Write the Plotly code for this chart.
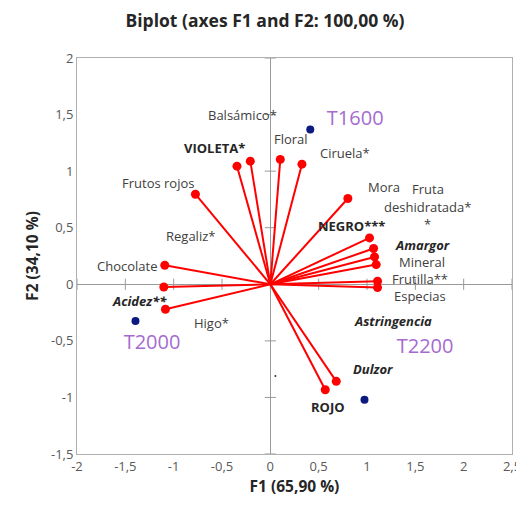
import plotly.graph_objects as go

# ---- Data ----
# Variable vectors (end points, F1/F2 loadings)
var_x = [-0.775, -0.345, -0.207, 0.103, 0.327, 0.802, 1.026, 1.068, 1.078, 1.095, 1.109, 1.109,
         -1.092, -1.102, -1.085, 0.568, 0.682]
var_y = [0.796, 1.044, 1.088, 1.104, 1.062, 0.758, 0.410, 0.316, 0.242, 0.174, 0.027, -0.029,
         0.168, -0.024, -0.221, -0.932, -0.858]

# Observations
obs_names = ["T1600", "T2000", "T2200"]
obs_x = [0.413, -1.395, 0.974]
obs_y = [1.369, -0.325, -1.020]
obs_label_x = [0.878, -1.224, 1.601]
obs_label_y = [1.456, -0.525, -0.560]

# Variable labels (text, position, style)
lab_text = ["Balsámico*", "VIOLETA*", "Floral", "Frutos rojos", "Ciruela*", "Mora", "Fruta",
            "deshidratada*", "*", "NEGRO***", "Amargor", "Mineral", "Frutilla**", "Especias",
            "Regaliz*", "Chocolate", "Acidez**", "Higo*", "Astringencia", "Dulzor", "ROJO"]
lab_x = [-0.289, -0.573, 0.212, -1.162, 0.775, 1.172, 1.632, 1.622, 1.625, 0.837, 1.570, 1.570,
         1.544, 1.550, -0.821, -1.482, -1.358, -0.609, 1.265, 1.064, 0.594]
lab_y = [1.496, 1.204, 1.283, 0.894, 1.159, 0.858, 0.841, 0.686, 0.530, 0.513, 0.348, 0.196,
         0.046, -0.104, 0.425, 0.159, -0.150, -0.342, -0.327, -0.746, -1.086]
lab_style = ["n", "b", "n", "n", "n", "n", "n", "n", "n", "b", "bi", "n", "n", "n",
             "n", "n", "bi", "n", "bi", "bi", "b"]

stray_x = [0.052]
stray_y = [-0.81]

x_ticks = [-2, -1.5, -1, -0.5, 0, 0.5, 1, 1.5, 2, 2.5]
x_tick_text = ["-2", "-1,5", "-1", "-0,5", "0", "0,5", "1", "1,5", "2", "2,5"]
y_ticks = [-1.5, -1, -0.5, 0, 0.5, 1, 1.5, 2]
y_tick_text = ["-1,5", "-1", "-0,5", "0", "0,5", "1", "1,5", "2"]

FONT = "Open Sans"
fig = go.Figure()

# zero-axis tick marks
fig.add_trace(go.Scatter(x=x_ticks, y=[0] * len(x_ticks), mode="markers",
                         marker=dict(symbol="line-ns", size=8, line=dict(color="#9a9a9a", width=1)),
                         hoverinfo="skip", showlegend=False))
fig.add_trace(go.Scatter(x=[0] * len(y_ticks), y=y_ticks, mode="markers",
                         marker=dict(symbol="line-ew", size=8, line=dict(color="#9a9a9a", width=1)),
                         hoverinfo="skip", showlegend=False))

# vectors
for vx, vy in zip(var_x, var_y):
    fig.add_trace(go.Scatter(x=[0, vx], y=[0, vy], mode="lines",
                             line=dict(color="#FF0000", width=2),
                             hoverinfo="skip", showlegend=False))
fig.add_trace(go.Scatter(x=var_x, y=var_y, mode="markers",
                         marker=dict(color="#FF0000", size=9),
                         showlegend=False))

# observations
fig.add_trace(go.Scatter(x=obs_x, y=obs_y, mode="markers",
                         marker=dict(color="#0A1A80", size=8), showlegend=False))
fig.add_trace(go.Scatter(x=obs_label_x, y=obs_label_y, mode="text", text=obs_names,
                         textfont=dict(family=FONT, size=20, color="#A66BD0"),
                         showlegend=False))
fig.add_trace(go.Scatter(x=stray_x, y=stray_y, mode="markers",
                         marker=dict(color="#333333", size=2), showlegend=False))

for t, x, y, s in zip(lab_text, lab_x, lab_y, lab_style):
    txt = t
    color = "#404040"
    if "b" in s:
        txt = "<b>" + txt + "</b>"
        color = "#262626"
    if "i" in s:
        txt = "<i>" + txt + "</i>"
    fig.add_annotation(x=x, y=y, text=txt, showarrow=False,
                       font=dict(family=FONT, size=13, color=color),
                       xanchor="center", yanchor="middle")

fig.update_layout(
    width=516, height=498,
    margin=dict(l=69, r=12, t=50, b=52, autoexpand=False),
    paper_bgcolor="white", plot_bgcolor="white",
    title=dict(text="<b>Biplot (axes F1 and F2: 100,00 %)</b>", x=0.498, xanchor="center",
               y=0.975, yanchor="middle", automargin=False,
               font=dict(family=FONT, size=17.5, color="#262626")),
    font=dict(family=FONT),
)
fig.update_xaxes(range=[-2, 2.5], tickvals=x_ticks, ticktext=x_tick_text, automargin=False,
                 showgrid=False, zeroline=True, zerolinecolor="#9a9a9a", zerolinewidth=1,
                 showline=True, linecolor="#b0b0b0", linewidth=1, mirror=True,
                 tickfont=dict(family=FONT, size=13, color="#595959"), ticks="",
                 title=dict(text="<b>F1 (65,90 %)</b>", font=dict(family=FONT, size=15.5, color="#262626"),
                            standoff=6))
fig.update_yaxes(range=[-1.5, 2], tickvals=y_ticks, ticktext=y_tick_text, automargin=False,
                 showgrid=False, zeroline=True, zerolinecolor="#9a9a9a", zerolinewidth=1,
                 showline=True, linecolor="#b0b0b0", linewidth=1, mirror=True,
                 tickfont=dict(family=FONT, size=13, color="#595959"), ticks="",
                 title=dict(text="<b>F2 (34,10 %)</b>", font=dict(family=FONT, size=15.5, color="#262626"),
                            standoff=8))

fig.write_html("out.html")
